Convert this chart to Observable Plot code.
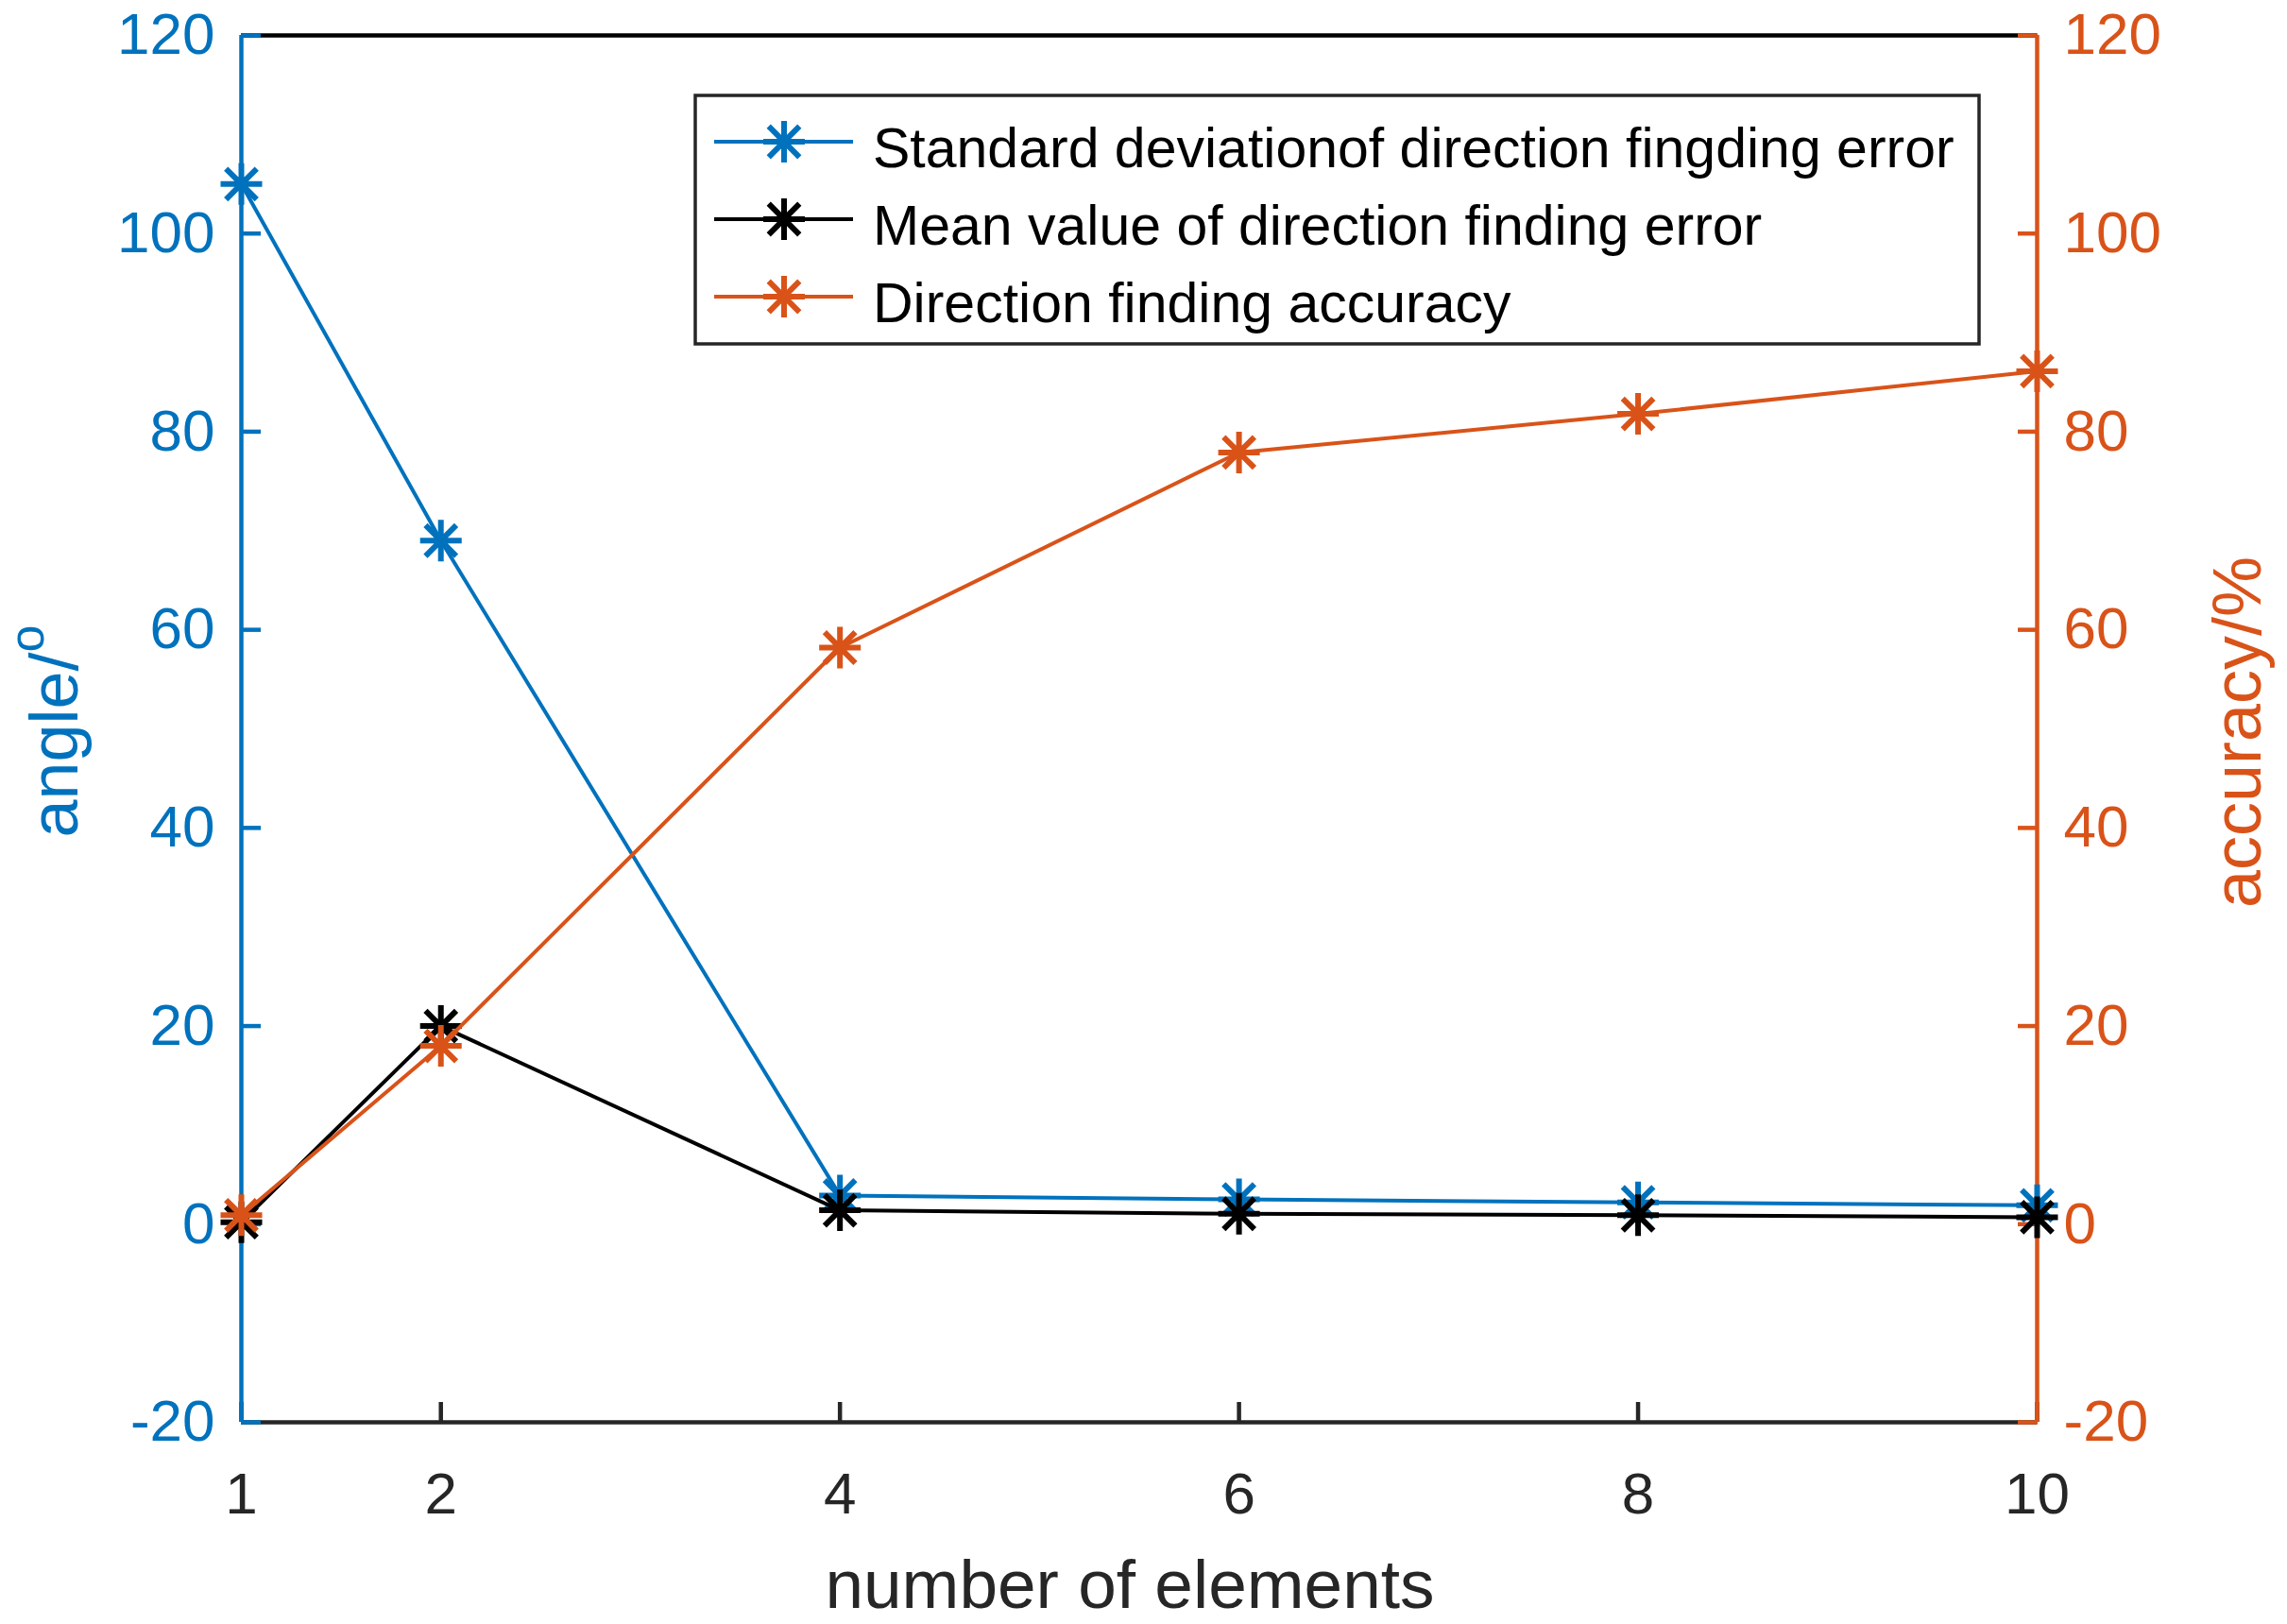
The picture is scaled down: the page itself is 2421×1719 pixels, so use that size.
<!DOCTYPE html>
<html>
<head>
<meta charset="utf-8">
<script src="https://cdn.jsdelivr.net/npm/d3@7"></script>
<script src="https://cdn.jsdelivr.net/npm/@observablehq/plot@0.6"></script>
<style>
  html, body { margin: 0; padding: 0; background: #ffffff; }
  #chart svg { display: block; }
</style>
</head>
<body>
<div id="chart"></div>
<script>
// ---- data ----
const elements = [1, 2, 4, 6, 8, 10];
const stdDev   = [105, 69, 2.9, 2.5, 2.2, 1.9];     // angle / deg
const meanErr  = [0.2, 20, 1.4, 1.05, 0.9, 0.7];    // angle / deg
const accuracy = [0.9, 18, 58.2, 77.9, 81.8, 86.1]; // accuracy / %
const xTicks = [1, 2, 4, 6, 8, 10];
const yTicks = [-20, 0, 20, 40, 60, 80, 100, 120];
const xDomain = [1, 10];
const yDomain = [-20, 120];
const seriesNames = [
  "Standard deviationof direction fingding error",
  "Mean value of direction finding error",
  "Direction finding accuracy"
];

const BLUE = "#0072BD", ORANGE = "#D95319", BLACK = "#000000", GRAY = "#262626";
const seriesColors = [BLUE, BLACK, ORANGE];
const seriesValues = [stdDev, meanErr, accuracy];

const rows = [];
seriesValues.forEach((vals, s) => vals.forEach((v, i) => rows.push({s, x: elements[i], y: v})));

// MATLAB-like asterisk marker
const asterisk = {
  draw(context, size) {
    const r = Math.sqrt(size / Math.PI);
    const d = r * 0.74;
    context.moveTo(0, -r); context.lineTo(0, r);
    context.moveTo(-r, 0); context.lineTo(r, 0);
    context.moveTo(-d, -d); context.lineTo(d, d);
    context.moveTo(-d, d); context.lineTo(d, -d);
  }
};

const W = 2421, H = 1719;
const mL = 255, mR = 265, mT = 37, mB = 214;
const AXW = 4.5, LW = 4, MW = 6;

const marks = [
  Plot.ruleY([yDomain[1]], {stroke: BLACK, strokeWidth: AXW}),
  Plot.ruleY([yDomain[0]], {stroke: GRAY, strokeWidth: AXW}),
  Plot.axisX(xTicks, {anchor: "bottom", tickSize: -21, tickPadding: 73, fontSize: 62, color: GRAY, strokeWidth: AXW, label: null, tickFormat: d => String(d)}),
  Plot.ruleX([xDomain[0]], {stroke: BLUE, strokeWidth: AXW}),
  Plot.ruleX([xDomain[1]], {stroke: ORANGE, strokeWidth: AXW}),
  Plot.axisY(yTicks, {anchor: "left", tickSize: -21, tickPadding: 49, fontSize: 62, color: BLUE, strokeWidth: AXW, label: null, tickFormat: d => String(d)}),
  Plot.axisY(yTicks, {anchor: "right", tickSize: -21, tickPadding: 49, fontSize: 62, color: ORANGE, strokeWidth: AXW, label: null, tickFormat: d => String(d)})
];
seriesValues.forEach((vals, s) => {
  const data = rows.filter(d => d.s === s);
  marks.push(Plot.line(data, {x: "x", y: "y", stroke: seriesColors[s], strokeWidth: LW}));
  marks.push(Plot.dot(data, {x: "x", y: "y", symbol: asterisk, r: 22, stroke: seriesColors[s], strokeWidth: MW, fill: "none"}));
});

const chart = Plot.plot({
  width: W, height: H,
  marginLeft: mL, marginRight: mR, marginTop: mT, marginBottom: mB,
  style: {fontFamily: "'Liberation Sans', Arial, Helvetica, sans-serif", background: "#ffffff", overflow: "visible"},
  x: {domain: xDomain, axis: null},
  y: {domain: yDomain, axis: null},
  marks
});
document.getElementById("chart").appendChild(chart);

// ---- axis labels and legend ----
const svg = d3.select(chart);
const font = "'Liberation Sans', Arial, Helvetica, sans-serif";

const yl = svg.append("text")
  .attr("transform", "translate(82,774) rotate(-90)")
  .attr("text-anchor", "middle").attr("font-family", font).attr("font-size", 72).attr("fill", BLUE);
yl.append("tspan").text("angle/");
yl.append("tspan").attr("font-size", 52).attr("dy", -36).text("o");

svg.append("text")
  .attr("transform", "translate(2393,775) rotate(-90)")
  .attr("text-anchor", "middle").attr("font-family", font).attr("font-size", 72).attr("fill", ORANGE)
  .text("accuracy/%");

svg.append("text")
  .attr("x", 1196).attr("y", 1702)
  .attr("text-anchor", "middle").attr("font-family", font).attr("font-size", 73).attr("fill", GRAY)
  .text("number of elements");

const lg = svg.append("g");
lg.append("rect").attr("x", 736).attr("y", 101).attr("width", 1359).attr("height", 263)
  .attr("fill", "#ffffff").attr("stroke", GRAY).attr("stroke-width", 3.5);
const symPath = d3.symbol().type(asterisk).size(Math.PI * 22 * 22)();
seriesNames.forEach((name, i) => {
  const cy = 150 + i * 82;
  lg.append("line").attr("x1", 756).attr("x2", 903).attr("y1", cy).attr("y2", cy)
    .attr("stroke", seriesColors[i]).attr("stroke-width", LW);
  lg.append("path").attr("d", symPath).attr("transform", `translate(830,${cy})`)
    .attr("fill", "none").attr("stroke", seriesColors[i]).attr("stroke-width", MW);
  lg.append("text").attr("x", 924).attr("y", cy + 27).attr("text-anchor", "start")
    .attr("font-family", font).attr("font-size", 59).attr("fill", BLACK).text(name);
});
</script>
</body>
</html>
